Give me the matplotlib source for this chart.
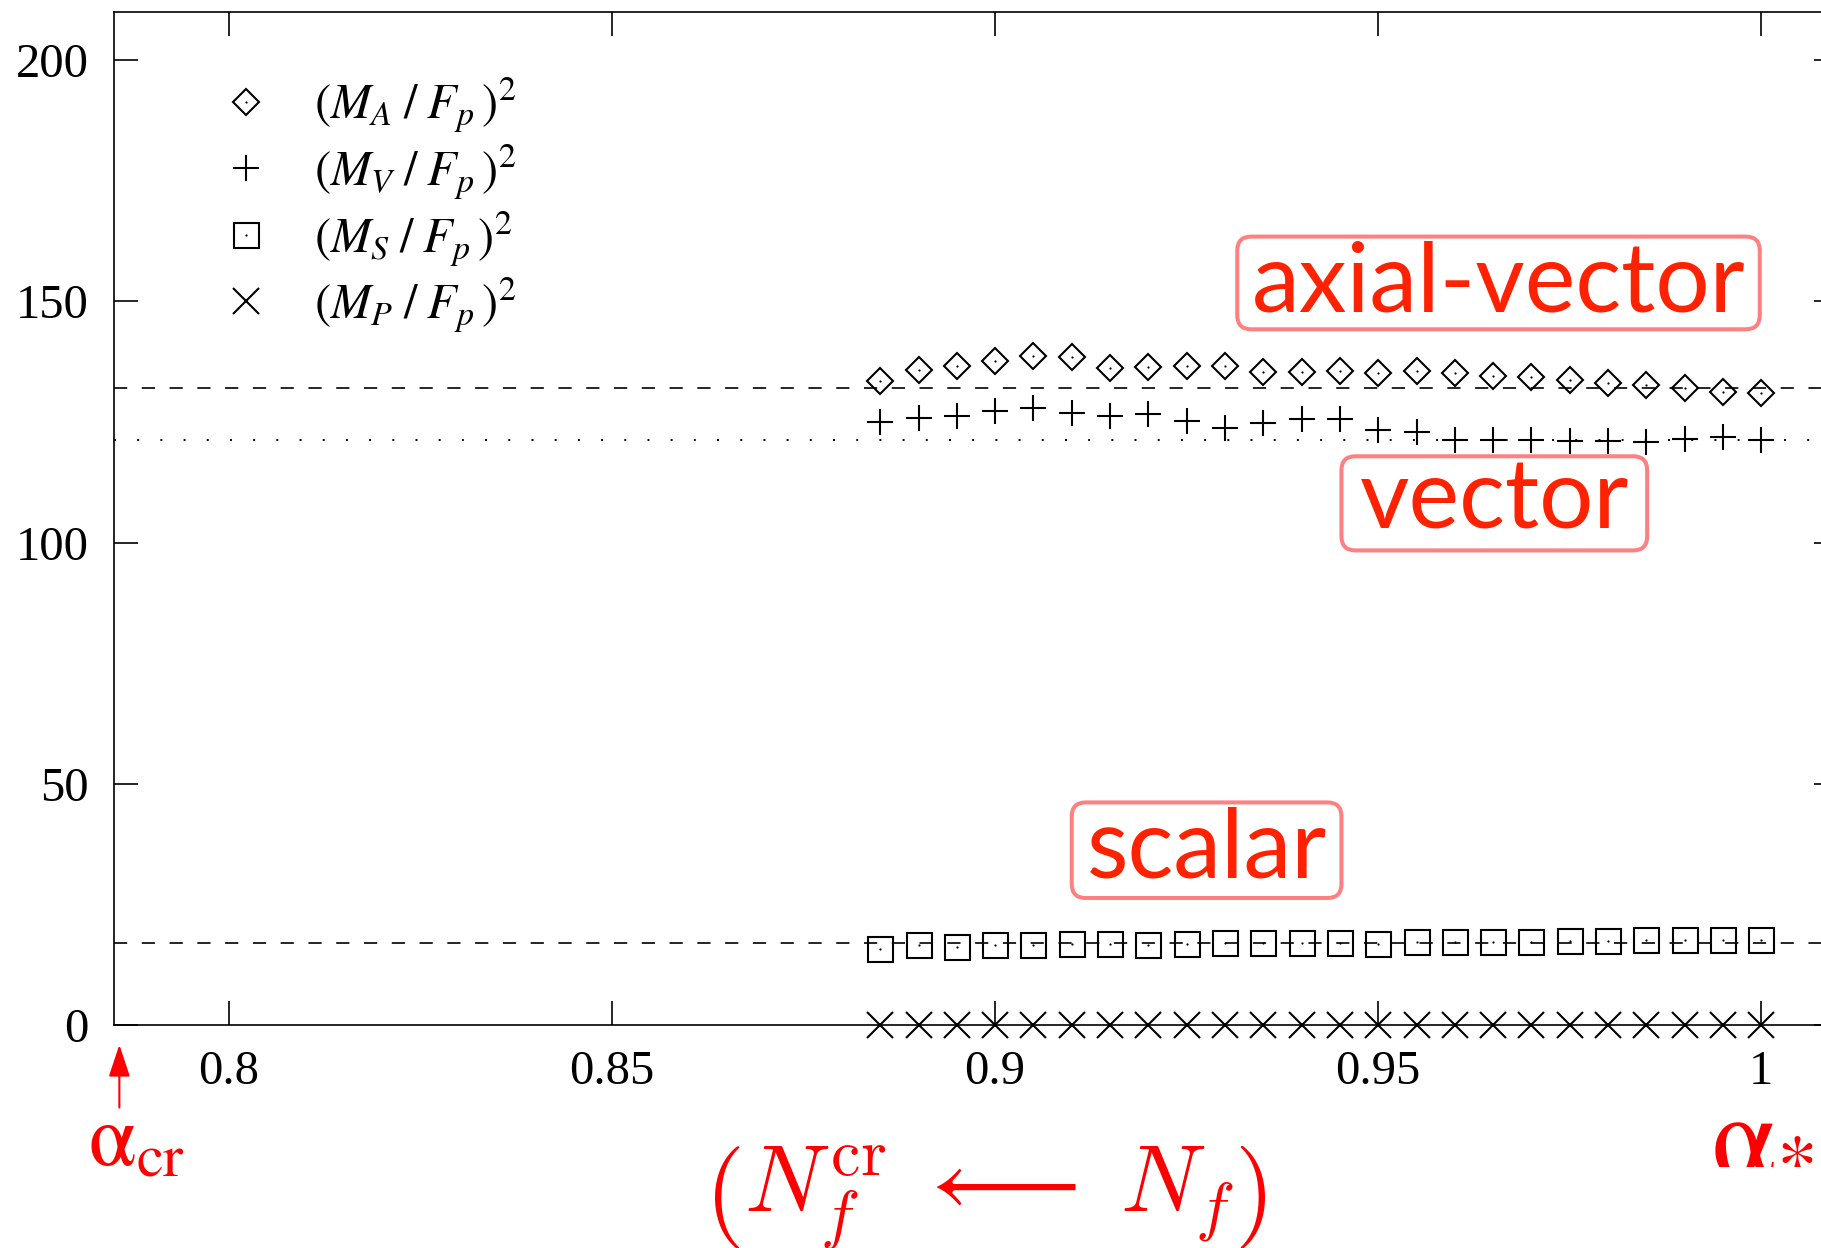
import matplotlib
matplotlib.use("Agg")
import matplotlib.pyplot as plt
from matplotlib.legend_handler import HandlerTuple
from matplotlib.patches import FancyBboxPatch

plt.rcParams['font.family'] = ['Liberation Serif', 'DejaVu Serif']
plt.rcParams['mathtext.fontset'] = 'stix'
plt.rcParams['lines.scale_dashes'] = False

# coupling ratio alpha/alpha_* and squared meson masses over F_pi
alpha = [0.885, 0.890, 0.895, 0.900, 0.905, 0.910, 0.915, 0.920,
         0.925, 0.930, 0.935, 0.940, 0.945, 0.950, 0.955, 0.960,
         0.965, 0.970, 0.975, 0.980, 0.985, 0.990, 0.995, 1.000]
m_axial = [133.5, 135.7, 136.6, 137.7, 138.7, 138.5, 136.1, 136.4,
           136.5, 136.5, 135.3, 135.4, 135.5, 135.1, 135.5, 135.1,
           134.6, 134.3, 133.6, 133.1, 132.6, 132.1, 131.2, 130.9]
m_vector = [125.1, 125.9, 126.2, 127.3, 127.9, 126.9, 126.2, 126.6,
            125.2, 123.8, 124.8, 125.7, 125.7, 123.4, 122.9, 121.2,
            121.2, 121.2, 121.0, 121.0, 120.8, 121.5, 121.9, 121.2]
m_scalar = [15.8, 16.7, 16.2, 16.7, 16.7, 16.8, 16.8, 16.7,
            16.8, 17.0, 17.0, 17.0, 17.0, 16.9, 17.3, 17.3,
            17.3, 17.3, 17.6, 17.6, 17.7, 17.7, 17.7, 17.7]
m_pseudo = [0.0, 0.0, 0.0, 0.0, 0.0, 0.0, 0.0, 0.0,
            0.0, 0.0, 0.0, 0.0, 0.0, 0.0, 0.0, 0.0,
            0.0, 0.0, 0.0, 0.0, 0.0, 0.0, 0.0, 0.0]

# asymptotic values near alpha_*
ref_axial = 132.0
ref_vector = 121.2
ref_scalar = 17.1

x_ticks = [0.8, 0.85, 0.9, 0.95, 1.0]
x_ticklabels = ['0.8', '0.85', '0.9', '0.95', '1']
y_ticks = [0, 50, 100, 150, 200]

alpha_cr = 0.7857

labels = [r'$(M_A\;/\;F_p\,)^2$', r'$(M_V\;/\;F_p\,)^2$',
          r'$(M_S\;/\;F_p\,)^2$', r'$(M_P\;/\;F_p\,)^2$']

# channel tags: text, box corners (x0, x1, y0, y1) and text baseline
tags = ['axial-vector', 'vector', 'scalar']
tag_boxes = [(0.9316, 0.9998, 144.2, 163.4),
             (0.9452, 0.9851, 98.4, 117.9),
             (0.9100, 0.9452, 26.4, 46.2)]
tag_baselines = [147.8, 102.9, 30.7]

fig = plt.figure(figsize=(18.21, 12.48), dpi=100)
ax = fig.add_axes([0.0626, 0.1783, 0.9467, 0.8124])

ax.axhline(ref_axial, color='black', lw=1.2, dashes=(9.5, 10.5), zorder=1)
ax.axhline(ref_vector, color='black', lw=1.4, dashes=(1.4, 15.3), zorder=1)
ax.axhline(ref_scalar, color='black', lw=1.2, dashes=(9.5, 10.5), zorder=1)

mk = dict(ls='none', color='black', mfc='none', mew=1.5, clip_on=False, zorder=3)
dot = dict(ls='none', marker='o', color='black', ms=1.6, mew=0, clip_on=False, zorder=4)

hA, = ax.plot(alpha, m_axial, marker='D', ms=13.0, **mk)
dA, = ax.plot(alpha, m_axial, **dot)
hV, = ax.plot(alpha, m_vector, marker='+', ms=18.5, **mk)
hS, = ax.plot(alpha, m_scalar, marker='s', ms=18, **mk)
dS, = ax.plot(alpha, m_scalar, **dot)
hP, = ax.plot(alpha, m_pseudo, marker='x', ms=19, **mk)

ax.set_xlim(0.785, 1.01)
ax.set_ylim(0, 210)
ax.set_xticks(x_ticks)
ax.set_xticklabels(x_ticklabels)
ax.set_yticks(y_ticks)
ax.tick_params(direction='in', length=17.3, width=1.2, labelsize=35, pad=18,
               top=True, right=True)
for s in ax.spines.values():
    s.set_linewidth(1.2)

leg = ax.legend([(hA, dA), hV, (hS, dS), hP], labels,
                handler_map={tuple: HandlerTuple(ndivide=1)},
                loc='upper left', bbox_to_anchor=(0.064, 0.937),
                frameon=False, fontsize=35, borderpad=0, borderaxespad=0,
                handlelength=0.886, handletextpad=0.95, labelspacing=0.155,
                numpoints=1)

# rounded tag boxes, drawn in data space with equal corner radius in pixels
p0 = ax.transData.transform((0, 0))
p1 = ax.transData.transform((1, 1))
aspect = (p1[0] - p0[0]) / (p1[1] - p0[1])
radius = 14 / (p1[0] - p0[0])
for name, (x0, x1, y0, y1), yb in zip(tags, tag_boxes, tag_baselines):
    ax.add_patch(FancyBboxPatch((x0, y0), x1 - x0, y1 - y0,
                                boxstyle=f'round,pad=0,rounding_size={radius}',
                                mutation_aspect=aspect, fc='white',
                                ec='#ff8080', lw=2.9, zorder=5))
    ax.text((x0 + x1) / 2, yb, name, ha='center', va='baseline',
            color='#ff2200', fontsize=69, family='Lato', zorder=6)

# critical coupling marker below the axis
ax.annotate('', xy=(alpha_cr, -4.0), xytext=(alpha_cr, -17.0),
            annotation_clip=False,
            arrowprops=dict(arrowstyle='-|>,head_length=0.9,head_width=0.3',
                            color='red', lw=1.5, mutation_scale=22,
                            shrinkA=0, shrinkB=0))
fig.text(0.0752, 0.0665, r'$\mathrm{\alpha}_{\rm cr}$', color='red', fontsize=62,
         ha='center', va='baseline')
fig.text(0.9395, 0.068, r'$\mathrm{\alpha}_{*}$', color='red', fontsize=84,
         ha='left', va='baseline')
fig.text(0.541, 0.028, r'$\left(N_f^{\rm cr}\;\longleftarrow\;N_f\right)$',
         color='red', fontsize=68, ha='center', va='baseline',
         math_fontfamily='cm')

fig.savefig('out.png', dpi=100)
